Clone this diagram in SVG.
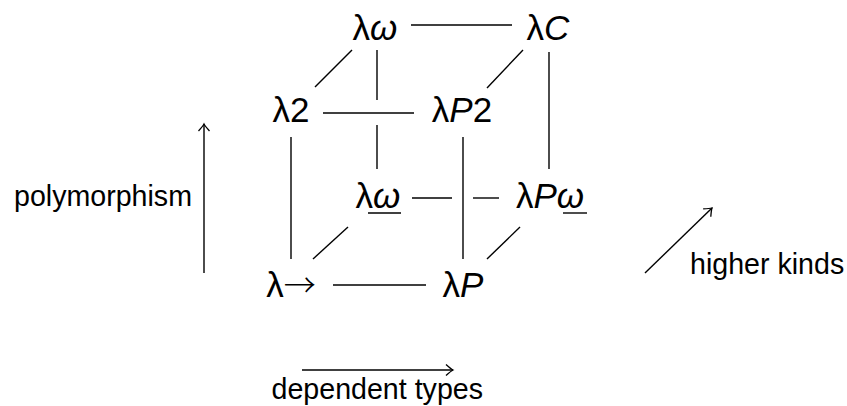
<svg xmlns="http://www.w3.org/2000/svg" width="847" height="406" viewBox="0 0 847 406">
<defs>
<style>
.m{font-family:"Liberation Sans",Arial,sans-serif;font-size:35px;fill:#000;text-anchor:middle}
.i{font-style:italic}
.ar{font-family:"Noto Sans CJK JP","DejaVu Sans",sans-serif;font-size:32px;font-weight:300}
.t{font-family:"Liberation Sans",Arial,sans-serif;font-size:28.6px;fill:#000}
.c line{stroke:#000;stroke-width:1.4;fill:none}
.a{stroke:#000;stroke-width:1.4;fill:none}
</style>
<marker id="tip" viewBox="-10 -6 12 12" markerWidth="12" markerHeight="12" refX="0" refY="0" orient="auto" markerUnits="userSpaceOnUse">
<path d="M-7,-5.5 Q-2,-1 0,0 Q-2,1 -7,5.5" fill="none" stroke="#000" stroke-width="1.3"/>
</marker>
</defs>
<rect width="847" height="406" fill="#fff"/>
<g class="c" id="connectors">
<line x1="411" y1="25" x2="512" y2="25"/>
<line x1="323" y1="113" x2="414" y2="113"/>
<line x1="412" y1="198" x2="452" y2="198"/>
<line x1="473" y1="198" x2="499" y2="198"/>
<line x1="333" y1="285" x2="426" y2="285"/>
<line x1="352" y1="50" x2="315" y2="87"/>
<line x1="523" y1="50" x2="487" y2="88"/>
<line x1="348" y1="227" x2="313" y2="259"/>
<line x1="520" y1="227" x2="487" y2="259"/>
<line x1="291" y1="137" x2="291" y2="259"/>
<line x1="463" y1="137" x2="463" y2="259"/>
<line x1="549" y1="52" x2="549" y2="169"/>
<line x1="377" y1="50" x2="377" y2="100"/>
<line x1="377" y1="125" x2="377" y2="169"/>
</g>
<g id="n-lw"><text class="m" x="375" y="40">λ<tspan class="i">ω</tspan></text></g>
<g id="n-lC"><text class="m" x="548" y="40">λ<tspan class="i">C</tspan></text></g>
<g id="n-l2"><text class="m" x="291" y="122">λ2</text></g>
<g id="n-lP2"><text class="m" x="462" y="122">λ<tspan class="i">P</tspan>2</text></g>
<g id="n-lwu"><text class="m" x="378" y="208">λ<tspan class="i">ω</tspan></text><line class="a" x1="368" y1="213" x2="401" y2="213"/></g>
<g id="n-lPwu"><text class="m" x="550" y="208">λ<tspan class="i">Pω</tspan></text><line class="a" x1="563" y1="213" x2="587" y2="213"/></g>
<g id="n-lto"><text class="m" x="291" y="297">λ<tspan class="ar">→</tspan></text></g>
<g id="n-lP"><text class="m" x="463" y="297">λ<tspan class="i">P</tspan></text></g>
<g id="poly">
<line class="a" x1="204" y1="273" x2="204" y2="124" marker-end="url(#tip)"/>
<text class="t" x="14" y="206">polymorphism</text>
</g>
<g id="dep">
<line class="a" x1="302" y1="370" x2="453" y2="370" marker-end="url(#tip)"/>
<text class="t" x="483" y="399" text-anchor="end">dependent types</text>
</g>
<g id="hk">
<line class="a" x1="645" y1="273" x2="712" y2="208" marker-end="url(#tip)"/>
<text class="t" x="690" y="274">higher kinds</text>
</g>
</svg>
